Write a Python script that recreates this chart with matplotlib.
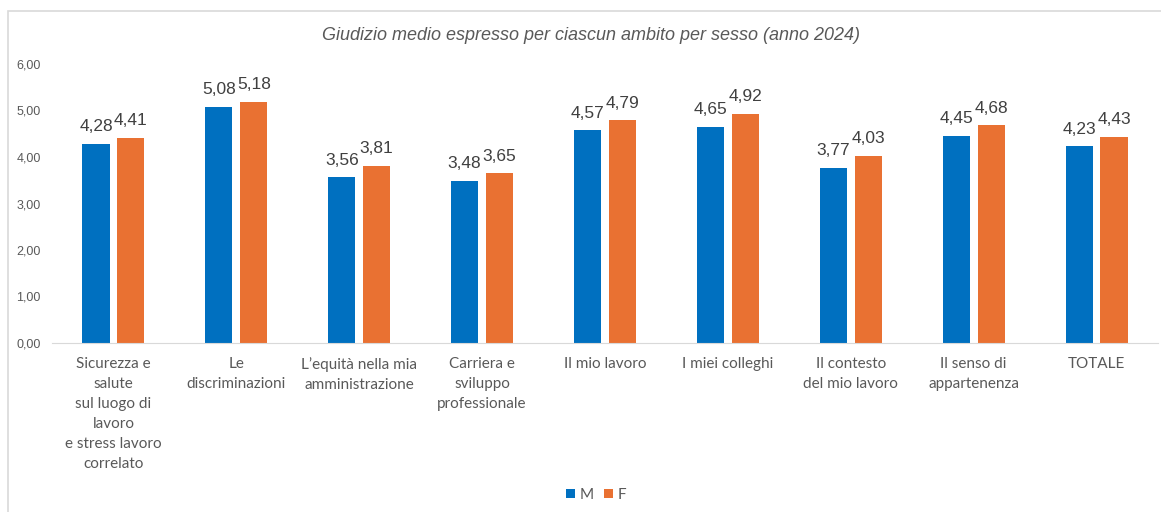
import matplotlib.pyplot as plt
from matplotlib.patches import Rectangle
import numpy as np

categorie = [
    "Sicurezza e\nsalute\nsul luogo di\nlavoro\ne stress lavoro\ncorrelato",
    "Le\ndiscriminazioni",
    "L’equità nella mia\namministrazione",
    "Carriera e\nsviluppo\nprofessionale",
    "Il mio lavoro",
    "I miei colleghi",
    "Il contesto\ndel mio lavoro",
    "Il senso di\nappartenenza",
    "TOTALE",
]
maschi = [4.28, 5.08, 3.56, 3.48, 4.57, 4.65, 3.77, 4.45, 4.23]
femmine = [4.41, 5.18, 3.81, 3.65, 4.79, 4.92, 4.03, 4.68, 4.43]
y_ticks = [0, 1, 2, 3, 4, 5, 6]

BLU = "#0070C0"
ARANCIO = "#E97132"
GRIGIO = "#595959"

def virgola(v):
    return f"{v:.2f}".replace(".", ",")

fig = plt.figure(figsize=(11.61, 5.12), dpi=100)

# cornice del grafico
fig.patches.append(Rectangle((8 / 1161, -0.1), 1.2, 1 - 11 / 512 + 0.1,
                             transform=fig.transFigure, fill=False,
                             edgecolor="#D9D9D9", linewidth=1.2))

ax = fig.add_axes([52 / 1161, 1 - 343 / 512, (1158 - 52) / 1161, (343 - 64) / 512])

x = np.arange(len(categorie))
w = 0.22
off = 0.142
b1 = ax.bar(x - off, maschi, w, color=BLU, label="M")
b2 = ax.bar(x + off, femmine, w, color=ARANCIO, label="F")

for bars, vals in ((b1, maschi), (b2, femmine)):
    for b, v in zip(bars, vals):
        ax.annotate(virgola(v), (b.get_x() + b.get_width() / 2, v),
                    xytext=(0, 7), textcoords="offset points",
                    ha="center", va="bottom", fontsize=12.5,
                    color="#404040", family="Liberation Sans")

ax.set_xlim(-0.5, len(categorie) - 0.5)
ax.set_ylim(0, 6)
ax.set_yticks(y_ticks)
ax.set_yticklabels([virgola(t) for t in y_ticks], fontsize=9,
                   color=GRIGIO, family="Liberation Sans")
ax.set_xticks(x)
ax.set_xticklabels(categorie, fontsize=11, color=GRIGIO, family="Lato",
                   linespacing=1.55, va="top")
ax.tick_params(axis="both", length=0)
ax.tick_params(axis="x", pad=10)
ax.tick_params(axis="y", pad=8)

for s in ("top", "right", "left"):
    ax.spines[s].set_visible(False)
ax.spines["bottom"].set_color("#D9D9D9")

fig.text(591 / 1161, 1 - 36 / 512, "Giudizio medio espresso per ciascun ambito per sesso (anno 2024)",
         ha="center", va="center", fontsize=13, style="italic",
         color=GRIGIO, family="Liberation Sans")

fig.legend(handles=[b1, b2], loc="center", bbox_to_anchor=(596 / 1161, 1 - 495 / 512),
           ncol=2, frameon=False, handlelength=0.6, handleheight=0.6,
           handletextpad=0.3, columnspacing=0.7, labelcolor=GRIGIO,
           prop={"family": "Lato", "size": 11})

fig.savefig("out.png", dpi=100)
